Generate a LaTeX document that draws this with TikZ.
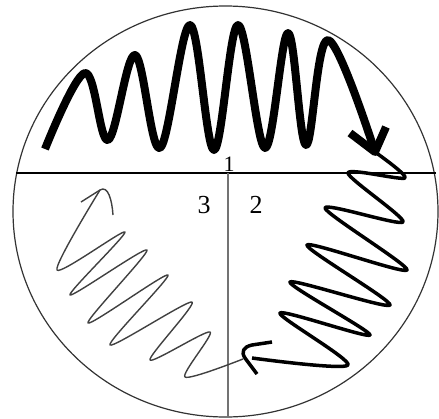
\documentclass[tikz,border=0pt]{standalone}
\usepackage{fontspec}
\setmainfont{Liberation Serif}

\begin{document}
\begin{tikzpicture}[x=1pt,y=-1pt,
        vlnaA/.style={line width=8pt, line join=round},
        vlnaB/.style={line width=3.5pt, line join=round},
        vlnaC/.style={line width=1.4pt, draw=black!75, line join=round},
        cislo/.style={inner sep=0pt, font=\fontsize{26}{28}\selectfont}]
        \useasboundingbox (0,0) rectangle (439,418);

        % kruh a osy
        \draw[black!80, line width=1.2pt] (225.5,211.5) ellipse [x radius=212.5, y radius=205.5];
        \draw[line width=1.2pt] (16,173) coordinate (L) -- (436,173) coordinate (P);
        \draw[black!55, line width=1.2pt] (228,173) coordinate (S) -- (228,417) coordinate (D);

        \node[cislo, font=\fontsize{22}{24}\selectfont] (n1) at (229,164) {1};
        \node[cislo] (n3) at (204,205) {3};
        \node[cislo] (n2) at (256,205) {2};

        % vlna 1
        \coordinate (hrotA) at (375,152);
        \draw[vlnaA] plot[smooth, tension=0.6] coordinates {(45,149) (85,73) (108,140)
            (135,55) (160,148) (190,25) (214,150) (238,25) (265,148) (288,33) (306,145)
            (328,40) (hrotA)};
        \draw[vlnaA] (350,133) -- (hrotA) -- (386,127);

        % vlna 2
        \coordinate (hrotB) at (244,352);
        \draw[vlnaB] plot[smooth, tension=0.45] coordinates {(hrotA) (405,178) (348,173)
            (403,222) (325,208) (407,270) (307,245) (390,305) (290,282) (370,335)
            (280,313) (348,365) (252,358)};
        \draw[vlnaB] (272,342) -- (252,345) .. controls (243,347) and (241,352) .. (245,358) -- (257,374);

        % vlna 3
        \coordinate (hrotC) at (100,190);
        \draw[vlnaC] plot[smooth, tension=0.45] coordinates {(243,359) (185,377) (210,332)
            (150,360) (192,302) (110,345) (168,275) (88,323) (147,250) (70,295)
            (125,232) (57,270) (hrotC)};
        \draw[vlnaC] (81,202) -- (hrotC) .. controls (108,185) and (112,200) .. (113,215);
\end{tikzpicture}
\end{document}
